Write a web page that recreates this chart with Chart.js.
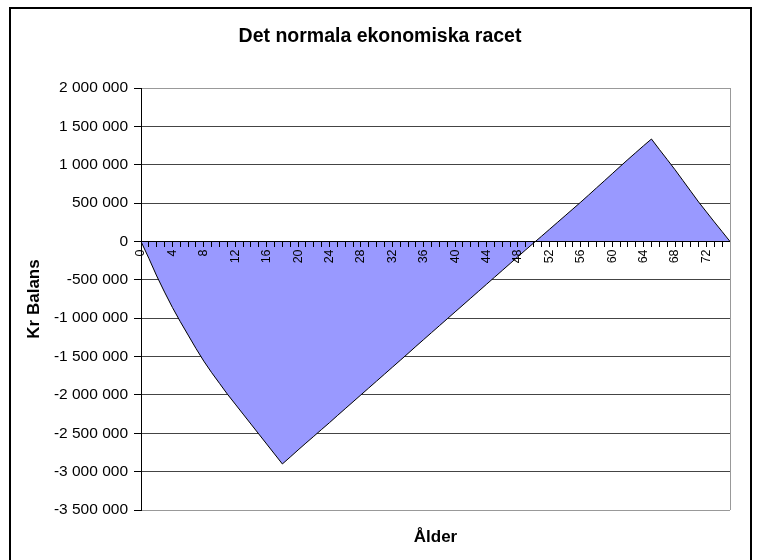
<!DOCTYPE html>
<html lang="sv">
<head>
    <meta charset="UTF-8">
    <title>Det normala ekonomiska racet</title>
    <script src="https://cdn.jsdelivr.net/npm/chart.js"></script>
    <style>
        body {
            margin: 0;
            background: #fff;
        }
        .chart-box {
            width: 758px;
            height: 560px;
        }
    </style>
</head>
<body>
    <div class="chart-box">
        <canvas id="chartCanvas" width="758" height="560"></canvas>
    </div>

    <script>
        // Ålder (år)
        const ages = [
            '0', '1', '2', '3', '4', '5', '6', '7', '8', '9',
            '10', '11', '12', '13', '14', '15', '16', '17', '18', '19',
            '20', '21', '22', '23', '24', '25', '26', '27', '28', '29',
            '30', '31', '32', '33', '34', '35', '36', '37', '38', '39',
            '40', '41', '42', '43', '44', '45', '46', '47', '48', '49',
            '50', '51', '52', '53', '54', '55', '56', '57', '58', '59',
            '60', '61', '62', '63', '64', '65', '66', '67', '68', '69',
            '70', '71', '72', '73', '74', '75'
        ];

        // Balans i kronor per ålder
        const balans = [
            0, -220000, -450000, -660000, -860000, -1045000, -1220000, -1395000, -1560000, -1710000,
            -1850000, -1990000, -2120000, -2250000, -2380000, -2510000, -2640000, -2770000, -2900000, -2810000,
            -2718000, -2628000, -2540000, -2450000, -2362000, -2270000, -2180000, -2090000, -2000000, -1910000,
            -1820000, -1730000, -1640000, -1550000, -1460000, -1368000, -1278000, -1188000, -1098000, -1008000,
            -918000, -828000, -738000, -648000, -558000, -468000, -378000, -288000, -198000, -108000,
            -20000, 68000, 157000, 246000, 335000, 424000, 513000, 605000, 698000, 790000,
            883000, 976000, 1068000, 1158000, 1248000, 1335000, 1200000, 1068000, 935000, 795000,
            655000, 515000, 385000, 255000, 128000, 0
        ];

        const yTicks = [
            -3500000, -3000000, -2500000, -2000000, -1500000, -1000000, -500000,
            0, 500000, 1000000, 1500000, 2000000
        ];

        const chartTitle = 'Det normala ekonomiska racet';
        const xTitle = 'Ålder';
        const yTitle = 'Kr Balans';

        const FONT = "'Liberation Sans', Arial, sans-serif";

        function kr(v) {
            const s = String(Math.abs(v)).replace(/\B(?=(\d{3})+(?!\d))/g, ' ');
            return (v < 0 ? '-' : '') + s;
        }

        // ram, rubrik, höger kant på ritytan och x-axelns titel
        const framePlugin = {
            id: 'frame',
            afterDraw(chart) {
                const ctx = chart.ctx;
                const a = chart.chartArea;
                ctx.save();
                ctx.strokeStyle = '#999';
                ctx.lineWidth = 1;
                ctx.beginPath();
                ctx.moveTo(Math.round(a.right) + 0.5, a.top);
                ctx.lineTo(Math.round(a.right) + 0.5, a.bottom);
                ctx.stroke();

                ctx.strokeStyle = '#000';
                ctx.lineWidth = 2;
                ctx.strokeRect(10, 8, 741, 560);

                ctx.fillStyle = '#000';
                ctx.textAlign = 'center';
                ctx.textBaseline = 'middle';
                ctx.font = 'bold 19.5px ' + FONT;
                ctx.fillText(chartTitle, 380, 37);

                ctx.font = 'bold 17px ' + FONT;
                ctx.fillText(xTitle, (a.left + a.right) / 2, 537);
                ctx.restore();
            }
        };

        new Chart(document.getElementById('chartCanvas'), {
            type: 'line',
            data: {
                labels: ages,
                datasets: [{
                    data: balans,
                    fill: 'origin',
                    backgroundColor: '#9999ff',
                    borderColor: '#000',
                    borderWidth: 1,
                    pointRadius: 0,
                    tension: 0
                }]
            },
            plugins: [framePlugin],
            options: {
                responsive: false,
                animation: false,
                layout: {
                    padding: { left: 9, right: 28, top: 88, bottom: 50 }
                },
                plugins: {
                    legend: { display: false },
                    tooltip: { enabled: false },
                    title: { display: false }
                },
                scales: {
                    x: {
                        type: 'category',
                        position: { y: 0 },
                        offset: false,
                        grid: {
                            drawOnChartArea: false,
                            drawTicks: true,
                            tickLength: 5,
                            tickColor: '#000',
                            z: 1
                        },
                        border: { color: '#000', width: 1, z: 1 },
                        ticks: {
                            autoSkip: false,
                            maxRotation: 90,
                            minRotation: 90,
                            padding: 3,
                            color: '#000',
                            font: { family: FONT, size: 12.5 },
                            z: 1,
                            callback: function (val, i) {
                                return i % 4 === 0 ? ages[i] : '';
                            }
                        }
                    },
                    y: {
                        position: 'left',
                        min: -3500000,
                        max: 2000000,
                        afterFit: function (s) { s.width = 132; },
                        afterBuildTicks: function (s) {
                            s.ticks = yTicks.map(v => ({ value: v }));
                        },
                        grid: {
                            color: function (c) {
                                const v = c.tick && c.tick.value;
                                return (v === 2000000 || v === -3500000) ? '#999' : '#444';
                            },
                            tickColor: '#000',
                            tickLength: 7
                        },
                        border: { color: '#000', width: 1, z: 1 },
                        ticks: {
                            padding: 6,
                            color: '#000',
                            font: { family: FONT, size: 15.5 },
                            callback: function (v) { return kr(v); }
                        },
                        title: {
                            display: true,
                            text: yTitle,
                            color: '#000',
                            font: { family: FONT, size: 17, weight: 'bold' },
                            padding: { top: 15, bottom: 0 }
                        }
                    }
                }
            }
        });
    </script>
</body>
</html>
